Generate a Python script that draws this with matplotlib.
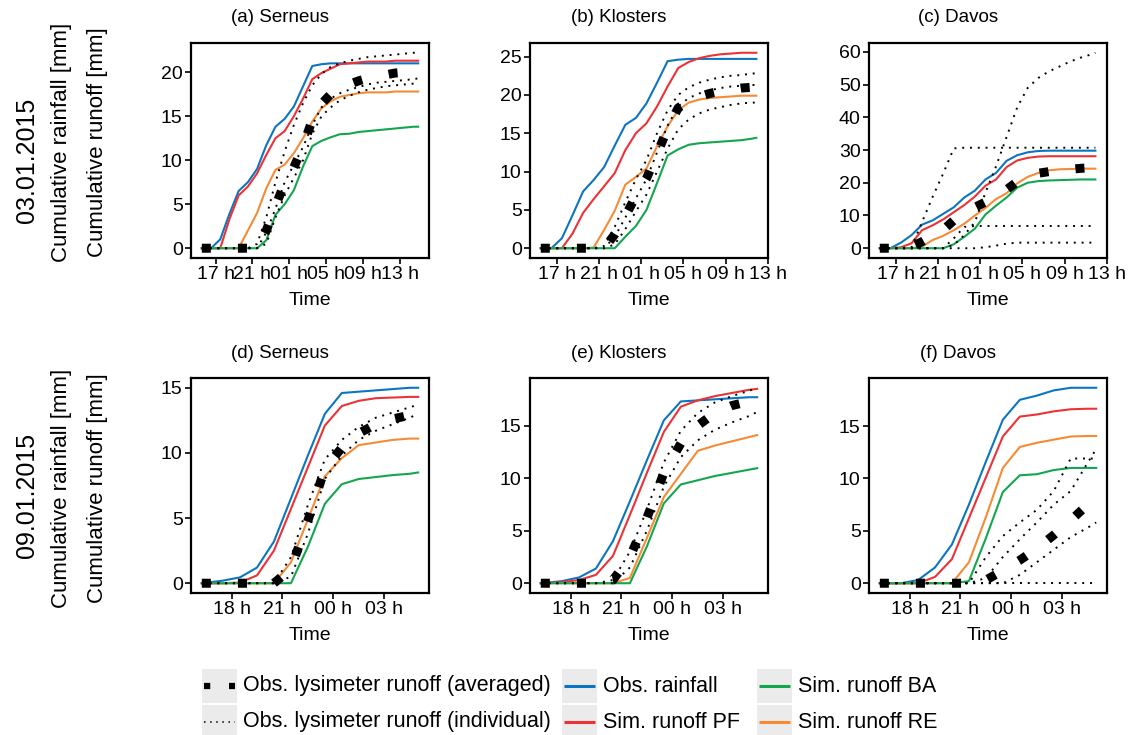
import matplotlib
matplotlib.use("Agg")
import matplotlib.pyplot as plt
from matplotlib.lines import Line2D
from matplotlib.patches import Rectangle

plt.rcParams['font.family'] = ['Liberation Sans', 'DejaVu Sans']

# time axes in hours since midnight of the first day
t_a = [15.5, 16.5, 17.5, 18.5, 19.5, 20.5, 21.5, 22.5, 23.5, 24.5, 25.5, 26.5, 27.5,
       28.5, 29.5, 30.5, 31.5, 32.5, 33.5, 34.5, 35.5, 36.5, 37.5, 38.5, 39.0]
t_bc = [15.5, 16.5, 17.5, 18.5, 19.5, 20.5, 21.5, 22.5, 23.5, 24.5, 25.5, 26.5, 27.5,
        28.5, 29.5, 30.5, 31.5, 32.5, 33.5, 34.5, 35.5, 35.9]
t_def = [16.25, 17.5, 18.5, 19.5, 20.5, 21.5, 22.5, 23.5, 24.5, 25.5, 26.5, 27.5, 28.5, 29.0]

# 03.01.2015 - Serneus
rain_a = [0, 0, 1.0, 3.9, 6.5, 7.5, 9.0, 11.7, 13.8, 14.7, 16.1, 18.4, 20.7, 20.9, 21.0,
          21.0, 21.0, 21.0, 21.0, 21.0, 21.0, 21.0, 21.0, 21.0, 21.0]
pf_a = [0, 0, 0, 3.3, 6.0, 7.0, 8.5, 10.6, 12.5, 13.3, 15.0, 17.0, 19.2, 19.9, 20.4,
        20.9, 21.0, 21.1, 21.2, 21.2, 21.2, 21.3, 21.3, 21.3, 21.3]
re_a = [0, 0, 0, 0, 0, 2.0, 4.0, 6.8, 8.9, 9.5, 10.8, 12.5, 14.4, 15.9, 16.7, 17.2,
        17.4, 17.6, 17.7, 17.7, 17.7, 17.8, 17.8, 17.8, 17.8]
ba_a = [0, 0, 0, 0, 0, 0, 0, 0.9, 3.8, 5.0, 6.6, 9.3, 11.6, 12.2, 12.6, 12.95, 13.0,
        13.2, 13.3, 13.4, 13.5, 13.6, 13.7, 13.8, 13.8]
avg_a = [0, 0, 0, 0, 0, 0, 0, 2.0, 4.8, 7.4, 9.2, 11.6, 14.6, 16.4, 17.5, 18.1, 18.6,
         19.0, 19.3, 19.5, 19.7, 19.9, 20.0, 20.1, 20.2]
ind_a1 = [0, 0, 0, 0, 0, 0, 0.5, 3.5, 7.5, 11.0, 14.0, 16.5, 18.5, 19.8, 20.6, 21.0,
          21.3, 21.5, 21.7, 21.8, 21.9, 22.0, 22.1, 22.2, 22.2]
ind_a2 = [0, 0, 0, 0, 0, 0, 0, 0.5, 3.5, 6.0, 8.0, 10.0, 13.0, 15.0, 16.0, 16.8, 17.3,
          17.7, 18.0, 18.2, 18.4, 18.5, 18.6, 18.7, 18.8]
ind_a3 = [0, 0, 0, 0, 0, 0, 0, 1.8, 4.5, 7.5, 9.5, 11.5, 14.0, 16.0, 17.0, 17.6, 18.0,
          18.3, 18.6, 18.8, 18.9, 19.0, 19.1, 19.2, 19.3]

# 03.01.2015 - Klosters
rain_b = [0, 0, 1.3, 4.3, 7.4, 8.9, 10.6, 13.4, 16.1, 17.0, 18.9, 21.6, 24.4, 24.6, 24.7,
          24.7, 24.7, 24.7, 24.7, 24.7, 24.7, 24.7]
pf_b = [0, 0, 0, 1.9, 4.6, 6.4, 8.1, 9.8, 12.8, 15.0, 16.3, 18.5, 21.1, 23.5, 24.3, 24.8,
        25.1, 25.3, 25.4, 25.5, 25.5, 25.5]
re_b = [0, 0, 0, 0, 0, 0.1, 2.4, 4.9, 8.3, 9.3, 10.4, 13.3, 15.9, 18.0, 19.0, 19.4, 19.6,
        19.7, 19.8, 19.9, 19.9, 19.9]
ba_b = [0, 0, 0, 0, 0, 0, 0, 0, 1.5, 2.9, 5.0, 8.5, 12.1, 12.9, 13.5, 13.7, 13.8, 13.9,
        14.0, 14.1, 14.3, 14.4]
avg_b = [0, 0, 0, 0, 0, 0, 0, 1.8, 4.2, 6.8, 9.1, 12.3, 15.6, 18.3, 19.2, 19.8, 20.2,
         20.5, 20.7, 20.9, 21.0, 21.1]
ind_b1 = [0, 0, 0, 0, 0, 0, 0.3, 2.8, 6.0, 9.0, 11.5, 15.0, 18.0, 20.0, 21.0, 21.6, 22.0,
          22.3, 22.5, 22.6, 22.8, 22.8]
ind_b2 = [0, 0, 0, 0, 0, 0, 0, 1.5, 4.0, 6.5, 9.0, 12.5, 16.0, 18.5, 19.6, 20.2, 20.6,
          20.9, 21.1, 21.2, 21.3, 21.3]
ind_b3 = [0, 0, 0, 0, 0, 0, 0, 0.5, 2.5, 4.8, 7.0, 10.0, 13.0, 15.5, 16.8, 17.6, 18.1,
          18.4, 18.7, 18.9, 19.0, 19.0]

# 03.01.2015 - Davos
rain_c = [0, 0, 1.7, 4.0, 7.2, 8.5, 10.5, 12.5, 15.5, 17.6, 21.0, 23.0, 26.7, 28.4, 29.3,
          29.7, 29.8, 29.8, 29.8, 29.8, 29.8, 29.8]
pf_c = [0, 0, 0.3, 1.5, 5.5, 7.0, 8.8, 11.0, 13.2, 15.8, 19.1, 21.0, 24.8, 26.8, 27.6,
        28.0, 28.1, 28.1, 28.1, 28.1, 28.1, 28.1]
re_c = [0, 0, 0, 0, 0.5, 2.5, 3.8, 5.5, 7.5, 10.0, 12.3, 15.0, 16.8, 19.8, 21.8, 23.0,
        23.8, 24.1, 24.2, 24.3, 24.3, 24.3]
ba_c = [0, 0, 0, 0, 0, 0, 0, 1.2, 3.5, 6.0, 10.3, 13.0, 15.5, 18.5, 20.0, 20.5, 20.7,
        20.8, 20.9, 21.0, 21.0, 21.0]
avg_c = [0, 0, 0, 0.5, 2.0, 3.8, 5.6, 8.5, 10.8, 12.5, 14.1, 15.8, 17.9, 20.3, 22.0, 22.9,
         23.4, 23.8, 24.1, 24.4, 24.6, 24.7]
ind_c1 = [0, 0, 0, 0.3, 8.0, 15.7, 22.8, 30.5, 30.7, 30.7, 30.7, 30.7, 30.7, 30.7, 30.7,
          30.7, 30.7, 30.7, 30.7, 30.7, 30.7, 30.7]
ind_c2 = [0, 0, 0, 0, 0, 0, 0, 1.0, 4.0, 8.0, 17.0, 25.0, 34.0, 43.0, 49.0, 52.0, 54.0,
          55.5, 57.0, 58.2, 59.2, 59.7]
ind_c3 = [0, 0, 0, 0, 0, 0, 0, 3.0, 6.5, 6.8, 6.8, 6.8, 6.8, 6.8, 6.8, 6.8, 6.8, 6.8,
          6.8, 6.8, 6.8, 6.8]
ind_c4 = [0, 0, 0, 0, 0, 0, 0, 0, 0, 0, 0.3, 0.8, 1.4, 1.7, 1.7, 1.7, 1.7, 1.7, 1.7,
          1.7, 1.7, 1.7]

# 09.01.2015 - Serneus
rain_d = [0, 0.2, 0.45, 1.2, 3.2, 6.5, 9.8, 13.0, 14.6, 14.7, 14.8, 14.9, 15.0, 15.0]
pf_d = [0, 0, 0.05, 0.6, 2.5, 5.7, 8.9, 12.1, 13.6, 14.0, 14.2, 14.25, 14.3, 14.3]
re_d = [0, 0, 0, 0, 0, 1.6, 4.9, 8.2, 9.6, 10.6, 10.8, 11.0, 11.1, 11.1]
ba_d = [0, 0, 0, 0, 0, 0, 2.8, 6.1, 7.6, 8.0, 8.15, 8.3, 8.4, 8.5]
avg_d = [0, 0, 0, 0, 0, 1.1, 4.8, 8.8, 10.4, 11.5, 12.2, 12.6, 12.9, 13.1]
ind_d1 = [0, 0, 0, 0, 0, 2.0, 6.0, 9.5, 11.0, 12.0, 12.7, 13.1, 13.5, 13.7]
ind_d2 = [0, 0, 0, 0, 0, 0.5, 3.8, 8.0, 9.8, 11.0, 11.7, 12.2, 12.7, 13.0]

# 09.01.2015 - Klosters
rain_e = [0, 0.2, 0.55, 1.4, 4.0, 7.8, 11.7, 15.5, 17.3, 17.4, 17.5, 17.6, 17.7, 17.7]
pf_e = [0, 0.1, 0.3, 0.8, 2.6, 6.5, 10.5, 14.4, 16.8, 17.4, 17.8, 18.1, 18.4, 18.5]
re_e = [0, 0, 0, 0, 0, 0.5, 4.3, 8.2, 10.4, 12.6, 13.1, 13.5, 13.9, 14.1]
ba_e = [0, 0, 0, 0, 0, 0, 3.5, 7.6, 9.4, 9.8, 10.2, 10.5, 10.8, 10.95]
avg_e = [0, 0, 0, 0, 0.3, 2.5, 6.2, 10.5, 13.3, 15.0, 16.2, 16.9, 17.3, 17.5]
ind_e1 = [0, 0, 0, 0, 0.3, 3.0, 7.0, 11.5, 14.5, 16.2, 17.2, 17.8, 18.3, 18.6]
ind_e2 = [0, 0, 0, 0, 0, 1.5, 5.0, 9.2, 12.0, 13.6, 14.6, 15.3, 15.9, 16.3]

# 09.01.2015 - Davos
rain_f = [0, 0, 0.3, 1.5, 3.7, 7.5, 11.6, 15.6, 17.5, 17.9, 18.4, 18.65, 18.65, 18.65]
pf_f = [0, 0, 0, 0.6, 2.3, 6.2, 10.1, 14.0, 15.9, 16.1, 16.4, 16.6, 16.65, 16.65]
re_f = [0, 0, 0, 0, 0, 2.0, 6.3, 11.0, 13.0, 13.4, 13.7, 14.0, 14.05, 14.05]
ba_f = [0, 0, 0, 0, 0, 0.2, 4.3, 8.7, 10.3, 10.4, 10.8, 11.0, 11.0, 11.0]
avg_f = [0, 0, 0, 0, 0, 0, 0.3, 1.2, 2.2, 3.3, 4.6, 6.0, 7.5, 8.2]
ind_f1 = [0, 0, 0, 0, 0, 0, 0, 0, 0, 0, 0, 0, 0, 0]
ind_f2 = [0, 0, 0, 0, 0, 0, 2.5, 4.5, 5.8, 7.0, 8.8, 11.9, 11.9, 11.9]
ind_f3 = [0, 0, 0, 0, 0, 0, 0.5, 2.5, 4.2, 5.8, 7.5, 8.8, 11.5, 12.8]
ind_f4 = [0, 0, 0, 0, 0, 0, 0, 0, 0.8, 2.0, 3.2, 4.4, 5.3, 5.8]

top_ticks = [17, 21, 25, 29, 33, 37]
top_labels = ["17 h", "21 h", "01 h", "05 h", "09 h", "13 h"]
bottom_ticks = [18, 21, 24, 27]
bottom_labels = ["18 h", "21 h", "00 h", "03 h"]

BLUE = '#0C75C0'
RED = '#EC3237'
GREEN = '#14A64E'
ORANGE = '#F58B36'

W, H = 1132, 735
PW, PH = 238, 215
fig = plt.figure(figsize=(W / 100, H / 100), dpi=100)


def fx(px):
    return px / W


def fy(py):
    return 1 - py / H


def draw_panel(left, top, t, rain, pf, re, ba, avg, indiv, title, xticks, xlabels, yticks):
    ax = fig.add_axes([fx(left), fy(top + PH), PW / W, PH / H])
    ax.plot(t, rain, color=BLUE, lw=1.5)
    ax.plot(t, pf, color=RED, lw=1.5)
    ax.plot(t, re, color=ORANGE, lw=1.5)
    ax.plot(t, ba, color=GREEN, lw=1.5)
    for series in indiv:
        ax.plot(t, series, color='black', lw=1.4, linestyle=(0, (1, 3)),
                dash_capstyle='butt')
    ax.plot(t, avg, color='black', lw=6.5, linestyle=(0, (1, 3)),
            dash_capstyle='butt')
    ax.margins(0.05)
    ax.set_xticks(xticks)
    ax.set_xticklabels(xlabels)
    ax.set_yticks(yticks)
    ax.tick_params(direction='out', length=4, width=1.2, labelsize=14, pad=2,
                   colors='black')
    for sp in ax.spines.values():
        sp.set_linewidth(1.6)
    # title sits over the whole subplot, y tick labels included
    ax.text(0.5 - 30 / PW, 1 + 25 / PH, title, transform=ax.transAxes,
            ha='center', va='center', fontsize=13.5)
    ax.set_xlabel("Time", fontsize=14, labelpad=6)
    return ax


draw_panel(191, 43, t_a, rain_a, pf_a, re_a, ba_a, avg_a, [ind_a1, ind_a2, ind_a3],
           "(a) Serneus", top_ticks, top_labels, [0, 5, 10, 15, 20])
draw_panel(530, 43, t_bc, rain_b, pf_b, re_b, ba_b, avg_b, [ind_b1, ind_b2, ind_b3],
           "(b) Klosters", top_ticks, top_labels, [0, 5, 10, 15, 20, 25])
draw_panel(869, 43, t_bc, rain_c, pf_c, re_c, ba_c, avg_c,
           [ind_c1, ind_c2, ind_c3, ind_c4],
           "(c) Davos", top_ticks, top_labels, [0, 10, 20, 30, 40, 50, 60])
draw_panel(191, 378, t_def, rain_d, pf_d, re_d, ba_d, avg_d, [ind_d1, ind_d2],
           "(d) Serneus", bottom_ticks, bottom_labels, [0, 5, 10, 15])
draw_panel(530, 378, t_def, rain_e, pf_e, re_e, ba_e, avg_e, [ind_e1, ind_e2],
           "(e) Klosters", bottom_ticks, bottom_labels, [0, 5, 10, 15])
draw_panel(869, 378, t_def, rain_f, pf_f, re_f, ba_f, avg_f,
           [ind_f1, ind_f2, ind_f3, ind_f4],
           "(f) Davos", bottom_ticks, bottom_labels, [0, 5, 10, 15])

# row labels on the left
for date, yd, yl in [("03.01.2015", 160, 142), ("09.01.2015", 495, 488)]:
    fig.text(fx(27), fy(yd), date, rotation=90, ha='center', va='center', fontsize=18)
    fig.text(fx(62), fy(yl), "Cumulative rainfall [mm]", rotation=90,
             ha='center', va='center', fontsize=16)
    fig.text(fx(97), fy(yl), "Cumulative runoff [mm]", rotation=90,
             ha='center', va='center', fontsize=16)

# legend below the panels, keys on grey background
legend_items = [
    (202, 686, "Obs. lysimeter runoff (averaged)", dict(color='black', lw=4.5,
                                                       linestyle=(0, (1, 3)))),
    (202, 722, "Obs. lysimeter runoff (individual)", dict(color='black', lw=1.1,
                                                         linestyle=(0, (1, 3)))),
    (562, 686, "Obs. rainfall", dict(color=BLUE, lw=2.2)),
    (562, 722, "Sim. runoff PF", dict(color=RED, lw=2.2)),
    (757, 686, "Sim. runoff BA", dict(color=GREEN, lw=2.2)),
    (757, 722, "Sim. runoff RE", dict(color=ORANGE, lw=2.2)),
]
for x0, yc, label, style in legend_items:
    fig.add_artist(Rectangle((fx(x0), fy(yc + 17)), 35 / W, 34 / H,
                             transform=fig.transFigure, facecolor='#EBEBEB',
                             edgecolor='none'))
    fig.add_artist(Line2D([fx(x0 + 2), fx(x0 + 33)], [fy(yc), fy(yc)],
                          transform=fig.transFigure, dash_capstyle='butt',
                          solid_capstyle='butt', **style))
    fig.text(fx(x0 + 41), fy(yc), label, ha='left', va='center', fontsize=15.5)

fig.savefig("out.png", dpi=100)
